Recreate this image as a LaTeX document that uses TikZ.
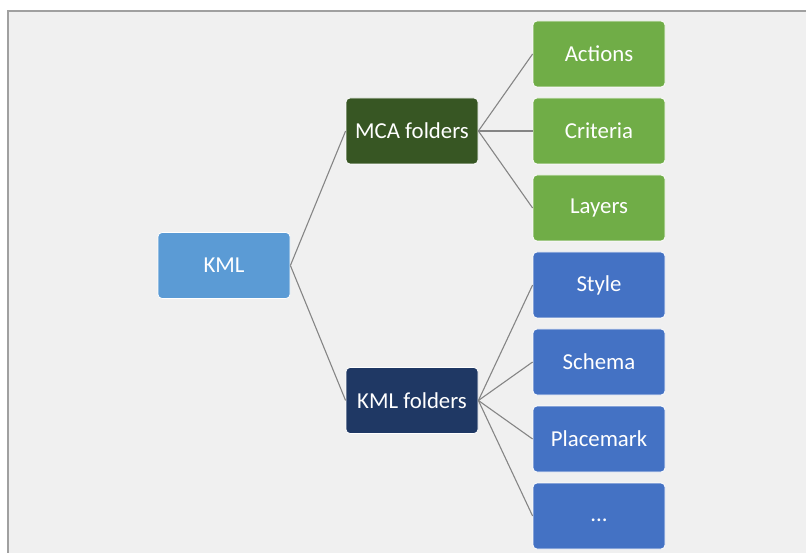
\documentclass[tikz,border=0pt]{standalone}
\usepackage{fontspec}
\setmainfont{Carlito}
\definecolor{bgc}{HTML}{F0F0F0}
\definecolor{framec}{HTML}{A0A0A0}
\definecolor{rootc}{HTML}{5B9BD5}
\definecolor{mcac}{HTML}{375623}
\definecolor{kmlfc}{HTML}{1F3864}
\definecolor{greenc}{HTML}{70AD47}
\definecolor{bluec}{HTML}{4472C4}
\definecolor{linec}{HTML}{858585}
\tikzset{
  box/.style={rectangle, rounded corners=4pt, draw=white, line width=0.8pt,
    minimum width=132pt, minimum height=66pt, inner sep=0pt, text=white,
    font=\fontsize{22.8}{27}\selectfont},
  conn/.style={draw=linec, line width=1.1pt}
}
\begin{document}
\begin{tikzpicture}[x=1pt,y=-1pt]
\useasboundingbox (0,0) rectangle (806,553);
\fill[white] (0,0) rectangle (806,553);
\fill[bgc] (7,10) rectangle (806,553);
\draw[framec, line width=2pt] (8,553) -- (8,11) -- (806,11);
\node[box, fill=rootc] (kml) at (224,265.5) {KML};
\node[box, fill=mcac] (mca) at (412,131) {MCA folders};
\node[box, fill=kmlfc] (kmlf) at (412,400.5) {KML folders};
\node[box, fill=greenc] (actions) at (599,54) {Actions};
\node[box, fill=greenc] (criteria) at (599,131) {Criteria};
\node[box, fill=greenc] (layers) at (599,208) {Layers};
\node[box, fill=bluec] (style) at (599,285) {Style};
\node[box, fill=bluec] (schema) at (599,362) {Schema};
\node[box, fill=bluec] (placemark) at (599,439) {Placemark};
\node[box, fill=bluec] (dots) at (599,516) {\strut...};
\draw[conn] (kml.east) -- (mca.west);
\draw[conn] (kml.east) -- (kmlf.west);
\draw[conn] (mca.east) -- (actions.west);
\draw[conn] (mca.east) -- (criteria.west);
\draw[conn] (mca.east) -- (layers.west);
\draw[conn] (kmlf.east) -- (style.west);
\draw[conn] (kmlf.east) -- (schema.west);
\draw[conn] (kmlf.east) -- (placemark.west);
\draw[conn] (kmlf.east) -- (dots.west);
\end{tikzpicture}
\end{document}
